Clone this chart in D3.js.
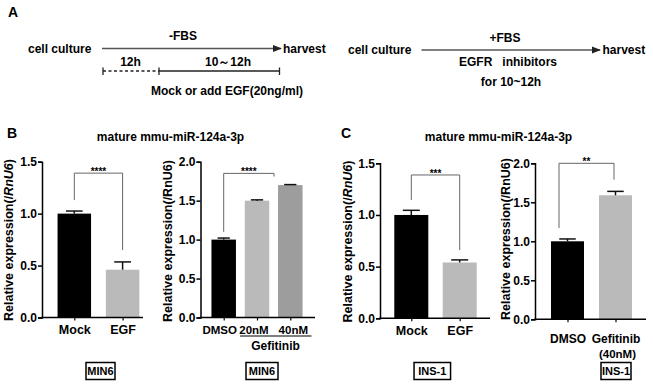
<!DOCTYPE html>
<html>
<head>
<meta charset="utf-8">
<script src="https://cdn.jsdelivr.net/npm/d3@7"></script>
<style>
  body { margin: 0; background: #fff; }
  svg text { font-family: "Liberation Sans", Arial, sans-serif; font-weight: bold; fill: #000; }
</style>
</head>
<body>
<svg id="fig" width="653" height="386"></svg>
<script>
// values
const b1Cats = ["Mock", "EGF"];
const b1Vals = [1.0, 0.46];
const b1Errs = [0.025, 0.075];

const b2Cats = ["DMSO", "20nM", "40nM"];
const b2Vals = [1.0, 1.5, 1.7];
const b2Errs = [0.02, 0.01, 0.006];

const c1Cats = ["Mock", "EGF"];
const c1Vals = [1.0, 0.54];
const c1Errs = [0.045, 0.025];

const c2Cats = ["DMSO", "Gefitinib"];
const c2Vals = [1.0, 1.59];
const c2Errs = [0.03, 0.05];

const ticks15 = [0, 0.5, 1.0, 1.5];
const ticks20 = [0, 0.5, 1.0, 1.5, 2.0];

const black = "#000", light = "#bababa", mid = "#9d9d9d";

const svg = d3.select("#fig");

// ---------- panel A : protocol diagrams ----------
function label(x, y, txt, size, anchor) {
  return svg.append("text").attr("x", x).attr("y", y)
    .attr("text-anchor", anchor || "middle")
    .style("font-size", size + "px").text(txt);
}
svg.append("defs").append("marker")
  .attr("id", "ah").attr("viewBox", "0 0 10 10")
  .attr("refX", 9).attr("refY", 5)
  .attr("markerWidth", 7).attr("markerHeight", 7)
  .attr("orient", "auto")
  .append("path").attr("d", "M0,1L10,5L0,9z").attr("fill", "#222");

label(8, 17, "A", 14, "start");

// left diagram
label(28, 52.5, "cell culture", 12, "start");
svg.append("line").attr("x1", 102).attr("x2", 281).attr("y1", 48.5).attr("y2", 48.5)
  .attr("stroke", "#555").attr("stroke-width", 1.3).attr("marker-end", "url(#ah)");
label(283, 52.5, "harvest", 12, "start");
label(183, 39.5, "-FBS", 12);
label(130.5, 65.5, "12h", 12);
label(228, 65.5, "10～12h", 12);
svg.append("line").attr("x1", 103).attr("x2", 159).attr("y1", 71).attr("y2", 71)
  .attr("stroke", "#222").attr("stroke-width", 1.3).attr("stroke-dasharray", "3,2.5");
svg.append("line").attr("x1", 159).attr("x2", 279.5).attr("y1", 71).attr("y2", 71)
  .attr("stroke", "#222").attr("stroke-width", 1.3);
[103, 159, 279.5].forEach(x => {
  svg.append("line").attr("x1", x).attr("x2", x).attr("y1", 67.5).attr("y2", 75)
    .attr("stroke", "#222").attr("stroke-width", 1.3);
});
label(227, 94.5, "Mock or add EGF(20ng/ml)", 12);

// right diagram
label(348, 54, "cell culture", 12, "start");
svg.append("line").attr("x1", 421.5).attr("x2", 600).attr("y1", 50).attr("y2", 50)
  .attr("stroke", "#555").attr("stroke-width", 1.3).attr("marker-end", "url(#ah)");
label(602.5, 54, "harvest", 12, "start");
label(505, 41.5, "+FBS", 12);
label(508, 66, "EGFR   inhibitors", 12).style("white-space", "pre");
label(511, 85.5, "for 10~12h", 12);

// ---------- bar panels ----------
const panels = [
  { cats: b1Cats, vals: b1Vals, errs: b1Errs, colors: [black, light], ticks: ticks15,
    yTop: 161.7, yBot: 317.5, axisX: 42, axisEnd: 143, c0: 74.3, c1: 122.6, barW: 33.5,
    labY: 8, font: 12.5, labDx: [0, 0], ylab: { x: 8.5, y: 240, italic: true },
    bracket: { from: "Mock", to: "EGF", top: 1.39, l: 1.13, r: 0.65, dr: 0, stars: "****" } },
  { cats: b2Cats, vals: b2Vals, errs: b2Errs, colors: [black, light, mid], ticks: ticks20,
    yTop: 161.7, yBot: 317.5, axisX: 200.5, axisEnd: 315, c0: 223.7, c1: 290.3, barW: 24.5,
    labY: 8, font: 11.5, labDx: [-4.5, -3.5, 2.5], ylab: { x: 167.5, y: 241, italic: false },
    bracket: { from: "DMSO", to: "20nM", top: 1.85, l: 1.10, r: 1.81, dr: 17, stars: "****" } },
  { cats: c1Cats, vals: c1Vals, errs: c1Errs, colors: [black, light], ticks: ticks15,
    yTop: 163.3, yBot: 318.3, axisX: 380, axisEnd: 490, c0: 411.3, c1: 459.7, barW: 34,
    labY: 8, font: 12.5, labDx: [0, 0], ylab: { x: 347, y: 241.5, italic: true },
    bracket: { from: "Mock", to: "EGF", top: 1.387, l: 1.145, r: 0.66, dr: 0, stars: "***" } },
  { cats: c2Cats, vals: c2Vals, errs: c2Errs, colors: [black, light], ticks: ticks20,
    yTop: 163.3, yBot: 319.3, axisX: 535, axisEnd: 646, c0: 567.5, c1: 615.5, barW: 33,
    labY: 15, font: 12, labDx: [0, 0], ylab: { x: 505, y: 239, italic: false },
    bracket: { from: "DMSO", to: "Gefitinib", top: 2.0, l: 1.17, r: 1.79, dl: -8.5, dr: -1.5, stars: "**" } }
];

panels.forEach(drawPanel);

function drawPanel(p) {
  const y = d3.scaleLinear().domain([0, p.ticks[p.ticks.length - 1]]).range([p.yBot, p.yTop]);
  const x = d3.scalePoint().domain(p.cats).range([p.c0, p.c1]);
  const g = svg.append("g");
  const rows = p.cats.map((c, i) => ({ cat: c, v: p.vals[i], e: p.errs[i], col: p.colors[i] }));

  // bars
  g.selectAll("rect.bar").data(rows).enter().append("rect")
    .attr("x", d => x(d.cat) - p.barW / 2)
    .attr("y", d => y(d.v))
    .attr("width", p.barW)
    .attr("height", d => y(0) - y(d.v))
    .attr("fill", d => d.col);

  // error bars (upper half only)
  g.selectAll("line.err").data(rows).enter().append("line")
    .attr("x1", d => x(d.cat)).attr("x2", d => x(d.cat))
    .attr("y1", d => y(d.v)).attr("y2", d => y(d.v + d.e))
    .attr("stroke", "#111").attr("stroke-width", 1.5);
  g.selectAll("line.cap").data(rows).enter().append("line")
    .attr("x1", d => x(d.cat) - p.barW / 4).attr("x2", d => x(d.cat) + p.barW / 4)
    .attr("y1", d => y(d.v + d.e)).attr("y2", d => y(d.v + d.e))
    .attr("stroke", "#111").attr("stroke-width", 1.5);

  // y axis
  const yAxis = g.append("g").attr("transform", `translate(${p.axisX},0)`)
    .call(d3.axisLeft(y).tickValues(p.ticks).tickFormat(d3.format(".1f")).tickSize(4).tickPadding(1));
  yAxis.select(".domain").attr("stroke-width", 1.5);
  yAxis.selectAll(".tick line").attr("stroke-width", 1.5);
  yAxis.selectAll("text").style("font-size", "12px").style("font-family", "Liberation Sans, Arial")
    .style("font-weight", "bold").attr("fill", "#000");

  // x axis
  const xAxis = g.append("g").attr("transform", `translate(0,${p.yBot})`)
    .call(d3.axisBottom(x).tickSize(3).tickPadding(p.labY - 3));
  xAxis.select(".domain").remove();
  xAxis.selectAll(".tick line").attr("stroke-width", 1.2);
  xAxis.selectAll("text").style("font-size", p.font + "px").style("font-family", "Liberation Sans, Arial")
    .style("font-weight", "bold").attr("fill", "#000")
    .attr("dx", (d, i) => p.labDx[i] || 0);
  g.append("line").attr("x1", p.axisX - 0.75).attr("x2", p.axisEnd)
    .attr("y1", p.yBot).attr("y2", p.yBot).attr("stroke", "#000").attr("stroke-width", 1.5);

  // y axis title
  const t = g.append("text")
    .attr("transform", `translate(${p.ylab.x},${p.ylab.y}) rotate(-90)`)
    .attr("text-anchor", "middle").attr("dy", "0.36em")
    .style("font-size", "12.5px");
  t.append("tspan").text("Relative expression(/");
  t.append("tspan").style("font-style", p.ylab.italic ? "italic" : "normal").text("RnU6");
  t.append("tspan").text(")");

  // significance bracket
  const b = p.bracket;
  const xl = x(b.from) + (b.dl || 0), xr = x(b.to) + (b.dr || 0);
  g.append("path")
    .attr("d", `M${xl},${y(b.l)}V${y(b.top)}H${xr}V${y(b.r)}`)
    .attr("fill", "none").attr("stroke", "#666").attr("stroke-width", 1);
  g.append("text").attr("x", (xl + xr) / 2).attr("y", y(b.top) + 2)
    .attr("text-anchor", "middle").style("font-size", "10px").text(b.stars);
}

// panel letters, titles
label(7, 138, "B", 14, "start");
label(341, 138, "C", 14, "start");
label(170.5, 140.5, "mature mmu-miR-124a-3p", 12);
label(498.5, 140.5, "mature mmu-miR-124a-3p", 12);

// Gefitinib group line under 20nM / 40nM
svg.append("line").attr("x1", 240).attr("x2", 311.5).attr("y1", 336).attr("y2", 336)
  .attr("stroke", "#000").attr("stroke-width", 1.2);
label(275.5, 349.5, "Gefitinib", 12);
label(617.5, 357.5, "(40nM)", 11.5);

// cell line boxes
const cellBoxes = [
  { name: "MIN6", cx: 100.5, w: 29 },
  { name: "MIN6", cx: 262, w: 32 },
  { name: "INS-1", cx: 432.3, w: 36.5 },
  { name: "INS-1", cx: 616, w: 30 }
];
cellBoxes.forEach(c => {
  svg.append("rect").attr("x", c.cx - c.w / 2).attr("y", 362.5).attr("width", c.w).attr("height", 17)
    .attr("fill", "none").attr("stroke", "#000").attr("stroke-width", 1.5);
  label(c.cx, 375, c.name, 11);
});
</script>
</body>
</html>
